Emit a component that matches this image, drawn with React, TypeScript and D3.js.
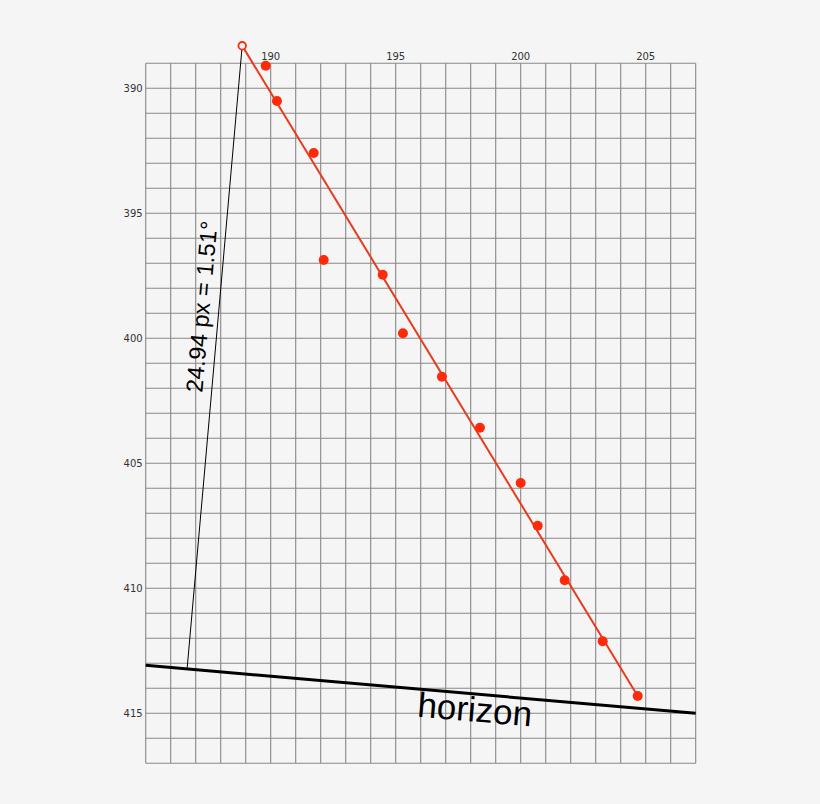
import * as d3 from 'd3';

// measured points (x, y) in chart units
const pointX = [189.8, 190.25, 191.72, 192.12, 194.48, 195.29, 196.85, 198.37, 200.0, 200.68, 201.76, 203.28, 204.68];
const pointY = [389.1, 390.51, 392.59, 396.87, 397.46, 399.8, 401.54, 403.58, 405.79, 407.5, 409.68, 412.12, 414.31];

// apex (open circle) and fit line end
const apex = { x: 188.86, y: 388.3 };
const fitEnd = { x: 204.68, y: 414.31 };

// horizon line and the foot of the perpendicular on it
const horizonX = [185, 207];
const horizonY = [413.08, 415.0];
const foot = { x: 186.66, y: 413.18 };

const xTicks = [190, 195, 200, 205];
const yTicks = [390, 395, 400, 405, 410, 415];
const angleLabel = '24.94 px = 1.51°';
const horizonLabel = 'horizon';

const W = 820;
const H = 804;
const PLOT = { left: 145.7, top: 63.3, right: 695.7, bottom: 763.3 };

export default function App() {
  const x = d3.scaleLinear().domain([185, 207]).range([PLOT.left, PLOT.right]);
  const y = d3.scaleLinear().domain([389, 417]).range([PLOT.top, PLOT.bottom]);

  const gridX = d3.range(185, 208);
  const gridY = d3.range(389, 418);

  const line = d3.line<[number, number]>().x((d) => x(d[0])).y((d) => y(d[1]));

  const red = '#ff2a0a';
  const fitColor = '#e83a1c';

  const textAngle = (Math.atan2(y(apex.y) - y(foot.y), x(apex.x) - x(foot.x)) * 180) / Math.PI;
  const horizAngle =
    (Math.atan2(y(horizonY[1]) - y(horizonY[0]), x(horizonX[1]) - x(horizonX[0])) * 180) / Math.PI;

  return (
    <svg
      width={W}
      height={H}
      style={{ position: 'absolute', left: 0, top: 0, background: '#f5f5f5' }}
    >
      <rect x={0} y={0} width={W} height={H} fill="#f5f5f5" />
      <g stroke="#888" strokeWidth={1.1}>
        {gridX.map((v) => (
          <line key={'gx' + v} x1={x(v)} x2={x(v)} y1={PLOT.top} y2={PLOT.bottom} />
        ))}
        {gridY.map((v) => (
          <line key={'gy' + v} x1={PLOT.left} x2={PLOT.right} y1={y(v)} y2={y(v)} />
        ))}
      </g>
      <g fontFamily="DejaVu Sans" fontSize={10} fill="#333">
        {xTicks.map((v) => (
          <text key={'tx' + v} x={x(v)} y={PLOT.top - 3} textAnchor="middle">
            {v}
          </text>
        ))}
        {yTicks.map((v) => (
          <text key={'ty' + v} x={PLOT.left - 3} y={y(v)} dy="0.35em" textAnchor="end">
            {v}
          </text>
        ))}
      </g>
      {/* horizon */}
      <path
        d={line([[horizonX[0], horizonY[0]], [horizonX[1], horizonY[1]]]) || ''}
        stroke="#000"
        strokeWidth={3}
        fill="none"
      />
      {/* perpendicular from apex */}
      <path
        d={line([[foot.x, foot.y], [apex.x, apex.y]]) || ''}
        stroke="#000"
        strokeWidth={1}
        fill="none"
      />
      {/* fit line */}
      <path
        d={line([[apex.x, apex.y], [fitEnd.x, fitEnd.y]]) || ''}
        stroke={fitColor}
        strokeWidth={2}
        fill="none"
      />
      {pointX.map((px, i) => (
        <circle key={'p' + i} cx={x(px)} cy={y(pointY[i])} r={5} fill={red} />
      ))}
      <circle cx={x(apex.x)} cy={y(apex.y)} r={3.8} fill="#f5f5f5" stroke={red} strokeWidth={1.8} />
      <text
        transform={`translate(${x(187.26)},${y(402.19)}) rotate(${textAngle})`}
        fontFamily="Liberation Sans, Arial, sans-serif"
        fontSize={23.5}
        fill="#000"
      >
        {angleLabel}
      </text>
      <text
        transform={`translate(${x(195.84)},${y(415.13)}) rotate(${horizAngle})`}
        fontFamily="Liberation Sans, Arial, sans-serif"
        fontSize={35}
        fill="#000"
      >
        {horizonLabel}
      </text>
    </svg>
  );
}
